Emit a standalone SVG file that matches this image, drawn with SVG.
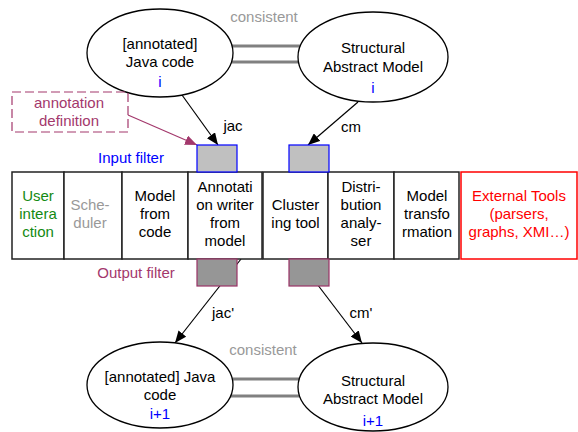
<svg xmlns="http://www.w3.org/2000/svg" width="578" height="432" viewBox="0 0 578 432">
  <style>
    text { font-family: "Liberation Sans", Arial, sans-serif; font-size: 15px; text-anchor: middle; fill: #000; }
    .ell { fill: #fff; stroke: #000; stroke-width: 1.3; }
    .tool { fill: #fff; stroke: #222; stroke-width: 1.5; }
    .ext { fill: #fff; stroke: #ff0000; stroke-width: 1.5; }
    .infilter { fill: #c0c0c0; stroke: #0000ff; stroke-width: 1.2; }
    .outfilter { fill: #969696; stroke: #993366; stroke-width: 1.2; }
    .cons { stroke: #808080; stroke-width: 3; fill: none; }
    .flow { stroke: #000; stroke-width: 1.2; fill: none; marker-end: url(#arrow); }
    .blue { fill: #0000ff; }
    .grey { fill: #999; }
    .green { fill: #138a13; }
    .red { fill: #ff0000; }
    .plum { fill: #a3386c; }
  </style>
  <defs>
    <marker id="arrow" viewBox="0 0 12 10" refX="12" refY="5" markerWidth="12" markerHeight="10" markerUnits="userSpaceOnUse" orient="auto">
      <path d="M0,0 L12,5 L0,10 z" fill="#000"/>
    </marker>
    <marker id="arrowPlum" viewBox="0 0 12 10" refX="12" refY="5" markerWidth="12" markerHeight="10" markerUnits="userSpaceOnUse" orient="auto">
      <path d="M0,0 L12,5 L0,10 z" fill="#a3386c"/>
    </marker>
  </defs>

  <!-- consistency links between code and model -->
  <g id="consistency">
    <line class="cons" x1="229" y1="46" x2="303" y2="46"/>
    <line class="cons" x1="229" y1="62" x2="303" y2="62"/>
    <text class="grey" x="264" y="22">consistent</text>
    <line class="cons" x1="228" y1="379" x2="303" y2="379"/>
    <line class="cons" x1="228" y1="396" x2="303" y2="396"/>
    <text class="grey" x="263" y="355">consistent</text>
  </g>

  <!-- connectors -->
  <g id="connectors">
    <line class="flow" x1="182" y1="95" x2="218" y2="145"/>
    <text x="233" y="131">jac</text>
    <line class="flow" x1="358" y1="102" x2="308" y2="145"/>
    <text x="351" y="132">cm</text>
    <line x1="128" y1="115" x2="197" y2="145" stroke="#a3386c" stroke-width="1.2" marker-end="url(#arrowPlum)"/>
    <line class="flow" x1="241" y1="259" x2="175" y2="343"/>
    <text x="223" y="318">jac'</text>
    <line class="flow" x1="314" y1="280" x2="362" y2="343"/>
    <text x="361" y="318">cm'</text>
  </g>

  <!-- model / code artefacts -->
  <g id="java-code-i">
    <ellipse class="ell" cx="160" cy="53" rx="73" ry="44"/>
    <text x="160" y="49">[annotated]</text>
    <text x="160" y="67">Java code</text>
    <text class="blue" x="160" y="87">i</text>
  </g>
  <g id="sam-i">
    <ellipse class="ell" cx="373" cy="57" rx="75" ry="45"/>
    <text x="373" y="53">Structural</text>
    <text x="373" y="72">Abstract Model</text>
    <text class="blue" x="373" y="93">i</text>
  </g>
  <g id="java-code-i1">
    <ellipse class="ell" cx="160" cy="385" rx="73" ry="43"/>
    <text x="160" y="382">[annotated] Java</text>
    <text x="160" y="400">code</text>
    <text class="blue" x="160" y="419">i+1</text>
  </g>
  <g id="sam-i1">
    <ellipse class="ell" cx="373" cy="387" rx="75" ry="44"/>
    <text x="373" y="386">Structural</text>
    <text x="373" y="404">Abstract Model</text>
    <text class="blue" x="373" y="426">i+1</text>
  </g>

  <!-- annotation definition -->
  <g id="annotation-definition">
    <rect x="12" y="92" width="116" height="40" fill="none" stroke="#a3386c" stroke-width="1.2" stroke-dasharray="9,4"/>
    <text class="plum" x="69" y="108">annotation</text>
    <text class="plum" x="69" y="126">definition</text>
  </g>

  <!-- tool chain -->
  <g id="user-interaction">
    <rect class="tool" x="12" y="172" width="52" height="87"/>
    <text class="green" x="38" y="201">User</text>
    <text class="green" x="38" y="219">intera</text>
    <text class="green" x="38" y="237">ction</text>
  </g>
  <g id="scheduler">
    <rect class="tool" x="64" y="172" width="58" height="87"/>
    <text class="grey" x="90" y="210">Sche-</text>
    <text class="grey" x="90" y="228">duler</text>
  </g>
  <g id="model-from-code">
    <rect class="tool" x="122" y="172" width="66" height="87"/>
    <text x="155" y="201">Model</text>
    <text x="155" y="219">from</text>
    <text x="155" y="237">code</text>
  </g>
  <g id="annotation-writer">
    <rect class="tool" x="188" y="172" width="74" height="87"/>
    <text x="225" y="192">Annotati</text>
    <text x="225" y="210">on writer</text>
    <text x="225" y="228">from</text>
    <text x="225" y="246">model</text>
  </g>
  <g id="clustering-tool">
    <rect class="tool" x="263" y="172" width="65" height="87"/>
    <text x="295.5" y="210">Cluster</text>
    <text x="295.5" y="228">ing tool</text>
  </g>
  <g id="distribution-analyser">
    <rect class="tool" x="328" y="172" width="66" height="87"/>
    <text x="361" y="192">Distri-</text>
    <text x="361" y="210">bution</text>
    <text x="361" y="228">analy-</text>
    <text x="361" y="246">ser</text>
  </g>
  <g id="model-transformation">
    <rect class="tool" x="394" y="172" width="65" height="87"/>
    <text x="427" y="201">Model</text>
    <text x="427" y="219">transfo</text>
    <text x="427" y="237">rmation</text>
  </g>
  <g id="external-tools">
    <rect class="ext" x="461" y="172" width="116" height="87"/>
    <text class="red" x="519" y="201">External Tools</text>
    <text class="red" x="519" y="219">(parsers,</text>
    <text class="red" x="519" y="237">graphs, XMI…)</text>
  </g>

  <!-- filters -->
  <g id="input-filters">
    <rect class="infilter" x="197" y="145" width="40" height="27"/>
    <rect class="infilter" x="289" y="145" width="40" height="27"/>
    <text class="blue" x="131" y="163">Input filter</text>
  </g>
  <g id="output-filters">
    <rect class="outfilter" x="197" y="259" width="40" height="27"/>
    <rect class="outfilter" x="289" y="259" width="40" height="27"/>
    <text class="plum" x="136" y="278">Output filter</text>
  </g>
</svg>
